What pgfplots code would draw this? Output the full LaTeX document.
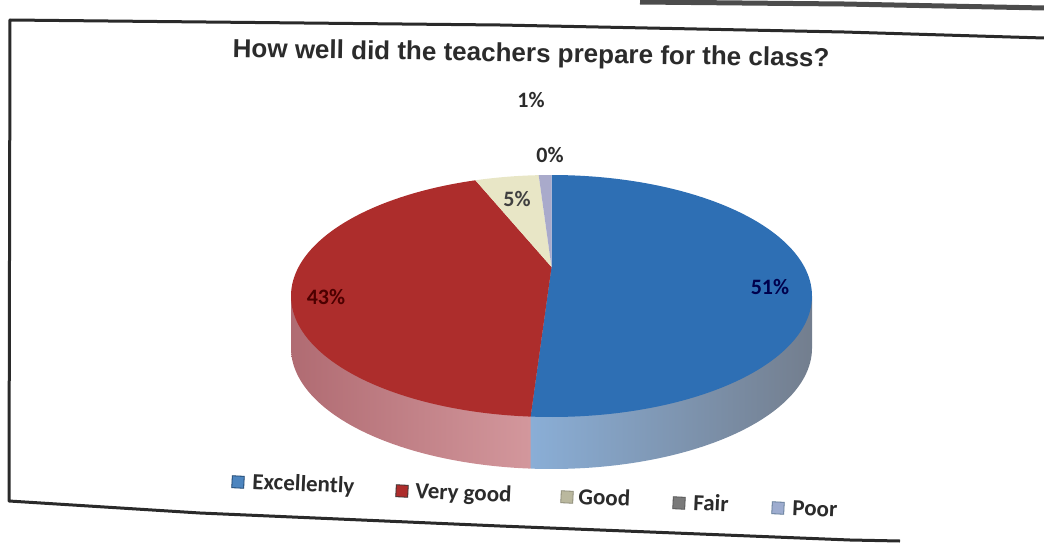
\documentclass[border=0pt]{standalone}
\usepackage{pgfplots}
\pgfplotsset{compat=1.18}
\usepackage{fontspec}
\setmainfont{Carlito}
\newfontfamily\titlefont{Liberation Sans}

\definecolor{cBlue}{HTML}{2E6FB4}
\definecolor{cRed}{HTML}{AD2D2C}
\definecolor{cCream}{HTML}{E8E6C6}
\definecolor{cFair}{HTML}{7A7A7A}
\definecolor{cPoor}{HTML}{A9AACB}
\definecolor{cSideRedL}{HTML}{B06B72}
\definecolor{cSideRedR}{HTML}{D69BA0}
\definecolor{cSideBlueL}{HTML}{8AAED6}
\definecolor{cSideBlueM}{HTML}{A5B1C0}
\definecolor{cSideBlueR}{HTML}{737E8E}
\definecolor{cLine}{HTML}{2A2A2A}
\definecolor{cText}{HTML}{2B2B2B}

% pie values (percent)
\def\vExc{51}
\def\vVg{43}
\def\vGood{5}
\def\vFair{0}
\def\vPoor{1}

% perspective ellipse geometry (pixel units, y downwards)
\pgfkeys{/pgf/declare function={
  px(\t)=551.5+260.5*0.9708*sin(\t)/(1+0.24*cos(\t));
  py(\t)=296-121*(cos(\t)+0.24)/(1+0.24*cos(\t));
}}
\def\depth{52}
\def\apx{551.5}
\def\apy{267}

\pgfmathsetmacro\aA{0}
\pgfmathsetmacro\aB{\vExc*3.6}
\pgfmathsetmacro\aC{(\vExc+\vVg)*3.6}
\pgfmathsetmacro\aD{(\vExc+\vVg+\vGood)*3.6}
\pgfmathsetmacro\aE{(\vExc+\vVg+\vGood+\vFair)*3.6}
\pgfmathsetmacro\phiR{acos(-0.24)}
\pgfmathsetmacro\phiL{360-\phiR}
\pgfmathsetmacro\xB{px(\aB)}
\pgfmathsetmacro\yB{py(\aB)}
\pgfmathsetmacro\xR{px(\phiR)}
\pgfmathsetmacro\yR{py(\phiR)}
\pgfmathsetmacro\xL{px(\phiL)}
\pgfmathsetmacro\yL{py(\phiL)}

\tikzset{
  legtext/.style={font=\bfseries\fontsize{23}{26}\selectfont, text=cText, anchor=base west,
    inner sep=0pt, rotate=-2.6},
  legbox/.style={minimum size=12pt, inner sep=0pt, rotate=-2.6, line width=0.8pt},
}

\begin{document}
\begin{tikzpicture}
\begin{axis}[
  scale only axis, width=1044pt, height=543pt,
  xmin=0, xmax=1044, ymin=0, ymax=543, y dir=reverse,
  hide axis, clip=false,
]
% frame of the photographed chart
\addplot[forget plot, draw=cLine, line width=3pt, line join=round]
  coordinates {(1044,38) (844,32) (500,25) (10,20) (9,501) (200,513) (500,526) (850,540) (900,541)};
\addplot[forget plot, draw=black!70, line width=5pt]
  coordinates {(640,2) (844,4) (1044,8)};

% front sides
\addplot[forget plot, draw=none, left color=cSideBlueL, middle color=cSideBlueM, right color=cSideBlueR,
  domain=\phiR:\aB, samples=100] ({px(x)},{py(x)+\depth})
  -- (axis cs:\xB,\yB) -- (axis cs:\apx,\apy) -- (axis cs:\xR,\yR) -- cycle;
\addplot[forget plot, draw=none, left color=cSideRedL, right color=cSideRedR,
  domain=\aB:\phiL, samples=100] ({px(x)},{py(x)+\depth})
  -- (axis cs:\xL,\yL) -- (axis cs:\apx,\apy) -- (axis cs:\xB,\yB) -- cycle;

% top faces
\addplot[forget plot, draw=none, fill=cBlue, domain=\aA:\aB, samples=150]
  ({px(x)},{py(x)}) -- (axis cs:\apx,\apy) -- cycle;
\addplot[forget plot, draw=none, fill=cRed, domain=\aB:\aC, samples=150]
  ({px(x)},{py(x)}) -- (axis cs:\apx,\apy) -- cycle;
\addplot[forget plot, draw=none, fill=cCream, domain=\aC:\aD, samples=30]
  ({px(x)},{py(x)}) -- (axis cs:\apx,\apy) -- cycle;
\addplot[forget plot, draw=none, fill=cPoor, domain=\aE:360, samples=10]
  ({px(x)},{py(x)}) -- (axis cs:\apx,\apy) -- cycle;

% data labels
\node[font=\bfseries\fontsize{22}{24}\selectfont, text=cText] at (axis cs:531,100) {1\%};
\node[font=\bfseries\fontsize{22}{24}\selectfont, text=cText] at (axis cs:550,155) {0\%};
\node[font=\bfseries\fontsize{22}{24}\selectfont, text=black!75] at (axis cs:517,199) {5\%};
\node[font=\bfseries\fontsize{22}{24}\selectfont, text=red!30!black] at (axis cs:326,297) {43\%};
\node[font=\bfseries\fontsize{22}{24}\selectfont, text=blue!30!black] at (axis cs:770,287) {51\%};

% title
\node[font=\titlefont\bfseries\fontsize{26}{30}\selectfont, text=cText, rotate=-0.95, anchor=base]
  at (axis cs:531,62) {How well did the teachers prepare for the class?};

% legend (slightly tilted, as in the photographed page)
\node[legbox, fill=cBlue!85!white, draw=cBlue!60!black] at (axis cs:238,482) {};
\node[legtext] at (axis cs:252,489) {Excellently};
\node[legbox, fill=cRed, draw=black!80] at (axis cs:402,491) {};
\node[legtext] at (axis cs:415,498) {Very good};
\node[legbox, fill=cCream!80!black, draw=cCream!60!black] at (axis cs:567,497) {};
\node[legtext] at (axis cs:578,504) {Good};
\node[legbox, fill=cFair, draw=cFair!70!black] at (axis cs:679,503) {};
\node[legtext] at (axis cs:693,510) {Fair};
\node[legbox, fill=cPoor!60!cSideBlueL, draw=cSideBlueL!70!black] at (axis cs:778,508) {};
\node[legtext] at (axis cs:792,515) {Poor};
\end{axis}
\pgfresetboundingbox
\path (current axis.south west) rectangle (current axis.north east);
\end{tikzpicture}
\end{document}
